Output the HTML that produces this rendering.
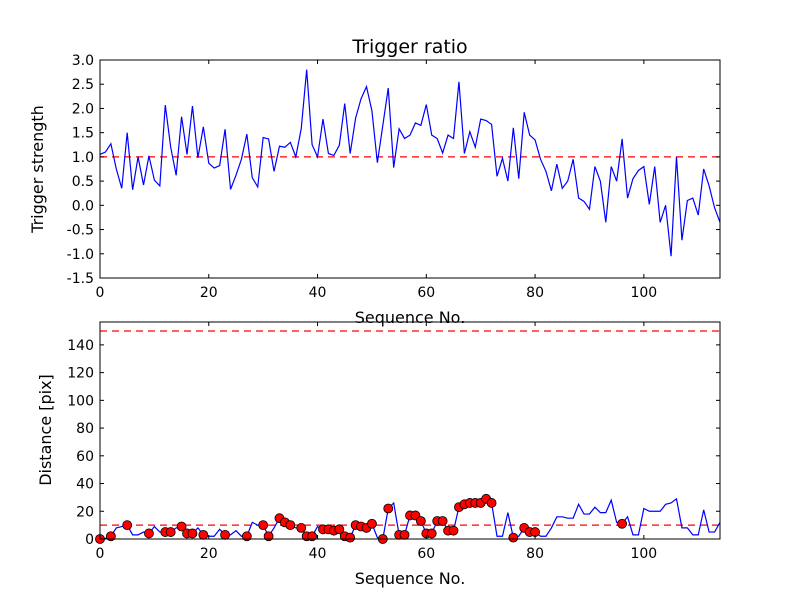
<!DOCTYPE html>
<html><head><meta charset="utf-8"><style>
body{margin:0;background:#fff;}
svg text{font-family:"DejaVu Sans","Liberation Sans",sans-serif;fill:#000;}
</style></head><body>
<svg id="fig" width="800" height="600" xmlns="http://www.w3.org/2000/svg">
<rect width="800" height="600" fill="#fff"/>
</svg>
<script>
const ratioValues=[1.05,1.1,1.27,0.75,0.35,1.5,0.32,1.0,0.42,1.02,0.52,0.4,2.07,1.2,0.62,1.83,1.05,2.05,0.98,1.62,0.87,0.77,0.82,1.57,0.33,0.62,0.95,1.47,0.57,0.38,1.4,1.37,0.7,1.22,1.2,1.3,1.0,1.58,2.8,1.25,1.0,1.78,1.07,1.03,1.24,2.1,1.07,1.8,2.2,2.45,1.95,0.88,1.65,2.42,0.78,1.58,1.38,1.45,1.7,1.65,2.08,1.45,1.38,1.08,1.45,1.38,2.55,1.07,1.52,1.2,1.78,1.75,1.67,0.6,0.97,0.5,1.6,0.55,1.92,1.45,1.35,0.95,0.7,0.3,0.85,0.35,0.5,0.95,0.15,0.08,-0.08,0.8,0.5,-0.35,0.8,0.5,1.37,0.15,0.55,0.72,0.8,0.02,0.8,-0.35,0.0,-1.05,1.0,-0.72,0.1,0.15,-0.2,0.75,0.4,-0.05,-0.35];
const distValues=[0,0.5,2,8,9,10,3,3,5,4,9,5,5,5,8,9,4,4,8,3,2,2,7,3,3,6,2,2,12,10,10,2,8,15,12,10,8,8,2,2,9,7,7,6,7,2,1,10,9,8,11,1,0,22,26,3,3,17,17,13,4,4,13,13,6,6,23,25,26,26,26,29,26,2,2,19,1,2,8,5,5,2,2,8,16,16,15,15,25,18,18,23,19,19,28,12,11,16,3,3,22,20,20,20,25,26,29,8,8,3,3,21,5,5,12];
const markerIdx=[0,2,5,9,12,13,15,16,17,19,23,27,30,31,33,34,35,37,38,39,41,42,43,44,45,46,47,48,49,50,52,53,55,56,57,58,59,60,61,62,63,64,65,66,67,68,69,70,71,72,76,78,79,80,96];
const topYTicks=[-1.5,-1.0,-0.5,0.0,0.5,1.0,1.5,2.0,2.5,3.0];
const botYTicks=[0,20,40,60,80,100,120,140];
const xTicks=[0,20,40,60,80,100];
const topThreshold=1.0, botThresholds=[150,10];

const NS="http://www.w3.org/2000/svg", svg=document.getElementById('fig');
function el(t,a,p){const e=document.createElementNS(NS,t);for(const k in a)e.setAttribute(k,a[k]);(p||svg).appendChild(e);return e;}
const L=100,R=720;
const xs=v=>L+(v-0)/(114-0)*(R-L);
const tT=60,tB=278, ysT=v=>tB-(v+1.5)/4.5*(tB-tT);
const bT=322,bB=539, ysB=v=>bB-v/156.5*(bB-bT);

function axes(top,bot,name){
  const g=el('g',{});
  const cp=el('clipPath',{id:'c'+name},g);el('rect',{x:L,y:top,width:R-L,height:bot-top},cp);
  return g;
}
function frame(g,top,bot,ys,yt,fmt){
  el('rect',{x:L,y:top,width:R-L,height:bot-top,fill:'none',stroke:'#000','stroke-width':1},g);
  yt.forEach(v=>{const y=ys(v);
    el('line',{x1:L,x2:L+4,y1:y,y2:y,stroke:'#000'},g);el('line',{x1:R,x2:R-4,y1:y,y2:y,stroke:'#000'},g);
    const t=el('text',{x:L-6,y:y+5,'text-anchor':'end','font-size':'14'},g);t.textContent=fmt(v);
    });
  xTicks.forEach(v=>{const x=xs(v);
    el('line',{x1:x,x2:x,y1:bot,y2:bot-4,stroke:'#000'},g);el('line',{x1:x,x2:x,y1:top,y2:top+4,stroke:'#000'},g);
    const t=el('text',{x:x,y:bot+19,'text-anchor':'middle','font-size':'14'},g);t.textContent=v;
    });
}
const gT=axes(tT,tB,'ratio-axes');
const th=el('line',{x1:L,x2:R,y1:ysT(topThreshold),y2:ysT(topThreshold),stroke:'#f00','stroke-width':1.2,'stroke-dasharray':'7,5'},gT);

const pl=el('polyline',{points:ratioValues.map((v,i)=>xs(i)+','+ysT(v)).join(' '),fill:'none',stroke:'#00f','stroke-width':1.2,'clip-path':'url(#cratio-axes)'},gT);

frame(gT,tT,tB,ysT,topYTicks,v=>v.toFixed(1));
const gB=axes(bT,bB,'distance-axes');
botThresholds.forEach(b=>{const l=el('line',{x1:L,x2:R,y1:ysB(b),y2:ysB(b),stroke:'#f00','stroke-width':1.2,'stroke-dasharray':'7,5'},gB);
  });
const pl2=el('polyline',{points:distValues.map((v,i)=>xs(i)+','+ysB(v)).join(' '),fill:'none',stroke:'#00f','stroke-width':1.2},gB);

markerIdx.forEach(i=>{const c=el('circle',{cx:xs(i),cy:ysB(distValues[i]),r:4.5,fill:'#f00',stroke:'#000','stroke-width':0.8},gB);
  });
frame(gB,bT,bB,ysB,botYTicks,v=>String(v));
function txt(x,y,s,sz,name,rot){const t=el('text',{x:x,y:y,'text-anchor':'middle','font-size':sz});t.textContent=s;
  if(rot)t.setAttribute('transform','rotate(-90 '+x+' '+y+')');
  }
txt(410,53,'Trigger ratio',19,'chart-title');
txt(410,323,'Sequence No.',16,'top-x-axis-title');
txt(410,584,'Sequence No.',16,'bottom-x-axis-title');
txt(43,169,'Trigger strength',16,'top-y-axis-title',true);
txt(51,430,'Distance [pix]',16,'bottom-y-axis-title',true);
</script>
</body></html>
